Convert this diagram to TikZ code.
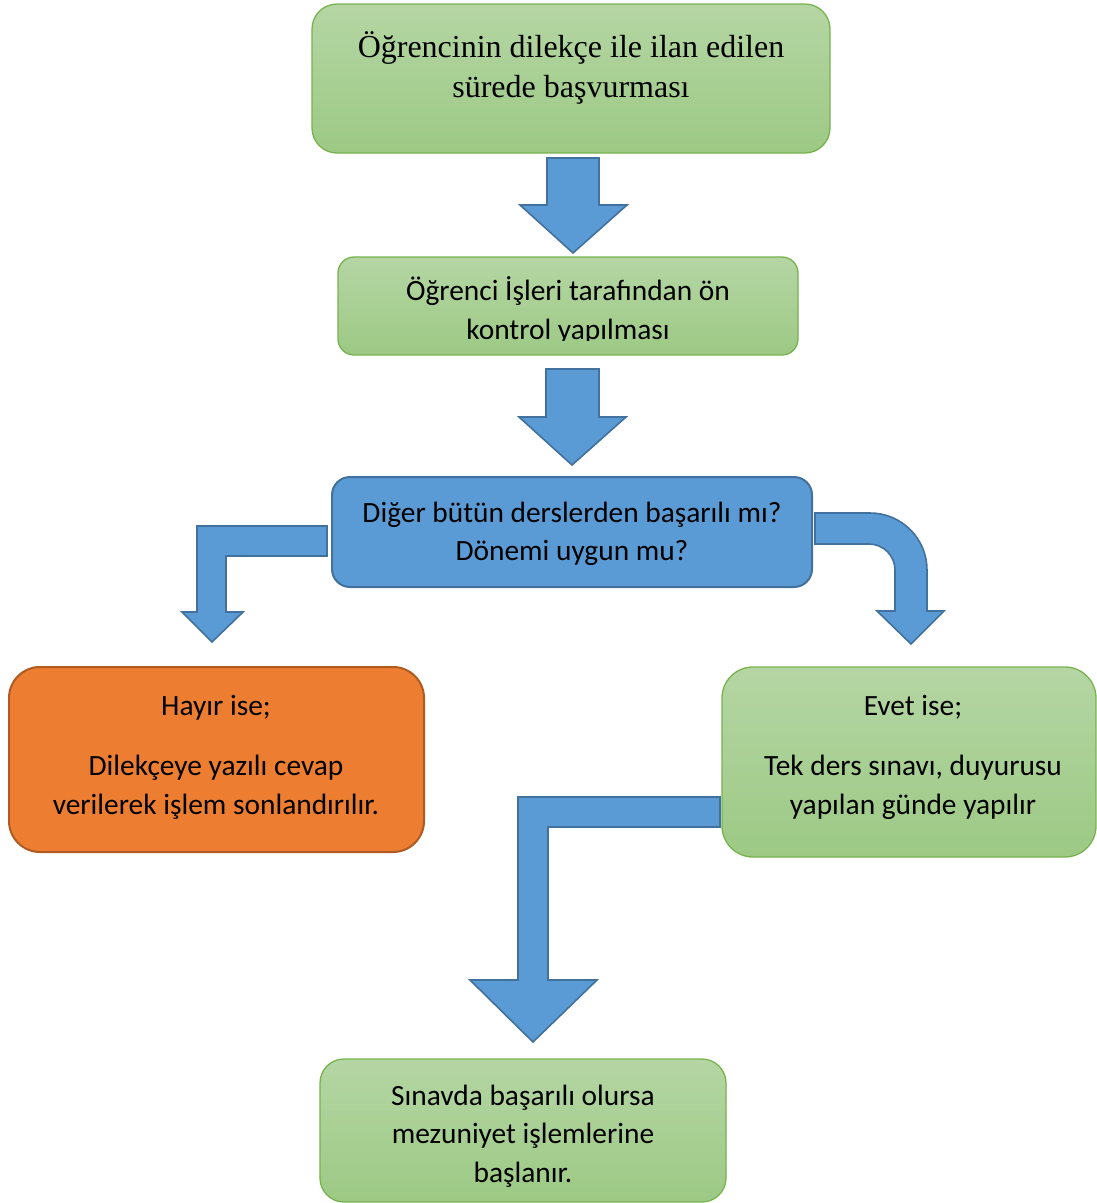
\documentclass[tikz,border=0pt]{standalone}
\usepackage{fontspec}
\setmainfont{Carlito}
\newfontfamily\timesf{Liberation Serif}
\definecolor{gTop}{HTML}{B5D6A4}
\definecolor{gBot}{HTML}{9CC984}
\definecolor{gLine}{HTML}{78B24E}
\definecolor{bFill}{HTML}{5B9BD5}
\definecolor{bLine}{HTML}{41719C}
\definecolor{oFill}{HTML}{ED7D31}
\definecolor{oLine}{HTML}{AE5A21}
\newcommand\mylines[1]{\begin{tabular}[t]{@{}c@{}}#1\end{tabular}}
\begin{document}
\begin{tikzpicture}[x=1pt,y=-1pt,
  greenbox/.style={draw=gLine, line width=1.3pt, top color=gTop, bottom color=gBot, rectangle, inner sep=0pt},
  bluebox/.style={draw=bLine, line width=2pt, fill=bFill, rectangle, inner sep=0pt},
  orangebox/.style={draw=oLine, line width=2pt, fill=oFill, rectangle, inner sep=0pt},
  blockarrow/.style={draw=bLine, line width=1.6pt, fill=bFill, line join=miter},
  cal/.style={font=\fontsize{29.4}{38.6}\selectfont, anchor=base, inner sep=0pt, text=black},
  serif/.style={font=\timesf\fontsize{32}{40}\selectfont, anchor=base, inner sep=0pt, text=black}]
\useasboundingbox (0,0) rectangle (1097,1203);

% boxes
\node[greenbox, minimum width=518pt, minimum height=149pt, rounded corners=25pt] (b1) at (571,78.5) {};
\node[greenbox, minimum width=460pt, minimum height=98pt, rounded corners=16pt] (b2) at (568,306) {};
\node[bluebox, minimum width=480pt, minimum height=110pt, rounded corners=18pt] (b3) at (572,532) {};
\node[orangebox, minimum width=415pt, minimum height=185pt, rounded corners=31pt] (b4) at (216.5,759.5) {};
\node[greenbox, minimum width=374pt, minimum height=190pt, rounded corners=31pt] (b5) at (909,762) {};
\node[greenbox, minimum width=406pt, minimum height=143pt, rounded corners=24pt] (b6) at (523,1130.5) {};

% texts
\node[serif] (t1) at (571,57) {\mylines{Öğrencinin dilekçe ile ilan edilen\\sürede başvurması}};
\begin{scope}
\clip (338,257) rectangle (798,340);
\node[cal] (t2) at (568,300.5) {\mylines{Öğrenci İşleri tarafından ön\\kontrol yapılması}};
\end{scope}
\node[cal] (t3) at (572,522) {\mylines{Diğer bütün derslerden başarılı mı?\\Dönemi uygun mu?}};
\node[cal] (t4) at (216,715) {\mylines{Hayır ise;\\[22pt]Dilekçeye yazılı cevap\\verilerek işlem sonlandırılır.}};
\node[cal] (t5) at (913,715) {\mylines{Evet ise;\\[22pt]Tek ders sınavı, duyurusu\\yapılan günde yapılır}};
\node[cal] (t6) at (523,1105) {\mylines{Sınavda başarılı olursa\\mezuniyet işlemlerine\\başlanır.}};

% block arrows
\draw[blockarrow] (547,158) -- (599,158) -- (599,205) -- (627,205) -- (573,253) -- (520,205) -- (547,205) -- cycle;
\draw[blockarrow] (546,369) -- (599,369) -- (599,417) -- (626,417) -- (572,465) -- (519,417) -- (546,417) -- cycle;
\draw[blockarrow] (327,526) -- (197,526) -- (197,612) -- (182,612) -- (212,642) -- (243,612) -- (226,612) -- (226,556) -- (327,556) -- cycle;
\draw[blockarrow] (815,513) -- (870,513) arc[start angle=-90, end angle=0, radius=57] -- (927,611) -- (944,611) -- (911,644) -- (877,611) -- (895,611) -- (895,570) arc[start angle=0, end angle=-90, radius=26] -- (815,544) -- cycle;
\draw[blockarrow] (720,797) -- (518,797) -- (518,980) -- (470,980) -- (533,1042) -- (597,980) -- (548,980) -- (548,827) -- (720,827) -- cycle;
\end{tikzpicture}
\end{document}
